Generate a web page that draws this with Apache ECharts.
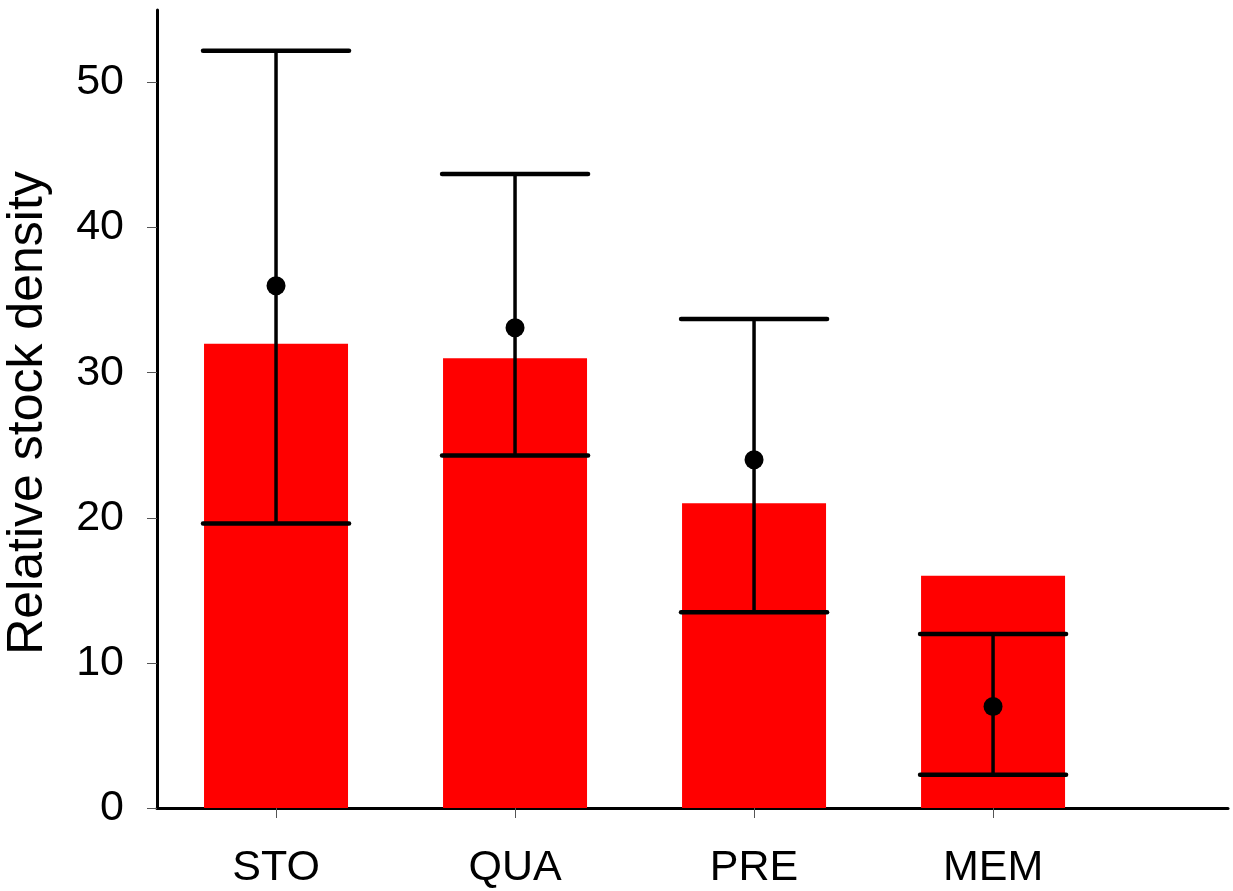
<!DOCTYPE html>
<html>
<head>
<meta charset="utf-8">
<script src="https://cdn.jsdelivr.net/npm/echarts@6/dist/echarts.min.js"></script>
<style>html,body{margin:0;padding:0;background:#fff}#c{width:1233px;height:891px}</style>
</head>
<body>
<div id="c"></div>
<script>
const categories = ['STO', 'QUA', 'PRE', 'MEM'];
const positions = [1, 2, 3, 4];
const barValues = [32, 31, 21, 16];
const meanValues = [36, 33.1, 24, 7];
const upperValues = [52.2, 43.7, 33.7, 12.0];
const lowerValues = [19.6, 24.3, 13.5, 2.3];
const yTicks = [0, 10, 20, 30, 40, 50];

const chart = echarts.init(document.getElementById('c'));
const font = '"Liberation Sans", Arial, sans-serif';

chart.setOption({
  animation: false,
  backgroundColor: '#fff',
  grid: { left: 157, right: 5, top: 10, bottom: 83, containLabel: false, outerBoundsMode: 'none' },
  xAxis: {
    type: 'value', min: 0.502, max: 4.983,
    splitLine: { show: false },
    axisLine: { show: true, lineStyle: { color: '#000', width: 3 } },
    axisTick: { show: true, customValues: positions, length: 10, lineStyle: { color: '#555', width: 1 } },
    axisLabel: {
      customValues: positions, margin: 39,
      fontSize: 43, fontFamily: font, color: '#000',
      formatter: v => categories[positions.indexOf(v)] || ''
    }
  },
  yAxis: {
    type: 'value', min: 0, max: 55,
    name: 'Relative stock density', nameLocation: 'middle', nameGap: 104,
    nameTextStyle: { fontSize: 50, fontFamily: font, color: '#000', padding: [0, 8, 0, 0] },
    splitLine: { show: false },
    axisLine: { show: true, lineStyle: { color: '#000', width: 3 } },
    axisTick: { show: true, customValues: yTicks, length: 10, lineStyle: { color: '#555', width: 1 } },
    axisLabel: { customValues: yTicks, margin: 33, fontSize: 43, fontFamily: font, color: '#000' }
  },
  series: [
    {
      type: 'bar', barWidth: 144, z: 1,
      itemStyle: { color: '#ff0000' },
      data: positions.map((p, i) => [p, barValues[i]])
    },
    {
      type: 'custom', z: 3,
      data: positions.map((p, i) => [p, lowerValues[i], upperValues[i]]),
      renderItem: function (params, api) {
        const x = api.value(0);
        const lo = api.coord([x, api.value(1)]);
        const hi = api.coord([x, api.value(2)]);
        const hw = 73;
        return {
          type: 'group',
          children: [
            { type: 'line', shape: { x1: lo[0], y1: lo[1], x2: hi[0], y2: hi[1] }, style: { stroke: '#000', lineWidth: 3.5 } },
            { type: 'line', shape: { x1: hi[0] - hw, y1: hi[1], x2: hi[0] + hw, y2: hi[1] }, style: { stroke: '#000', lineWidth: 4.5, lineCap: 'round' } },
            { type: 'line', shape: { x1: lo[0] - hw, y1: lo[1], x2: lo[0] + hw, y2: lo[1] }, style: { stroke: '#000', lineWidth: 4.5, lineCap: 'round' } }
          ]
        };
      }
    },
    {
      type: 'scatter', z: 4, symbol: 'circle', symbolSize: 19,
      itemStyle: { color: '#000', opacity: 1 },
      data: positions.map((p, i) => [p, meanValues[i]])
    }
  ]
});
</script>
</body>
</html>
